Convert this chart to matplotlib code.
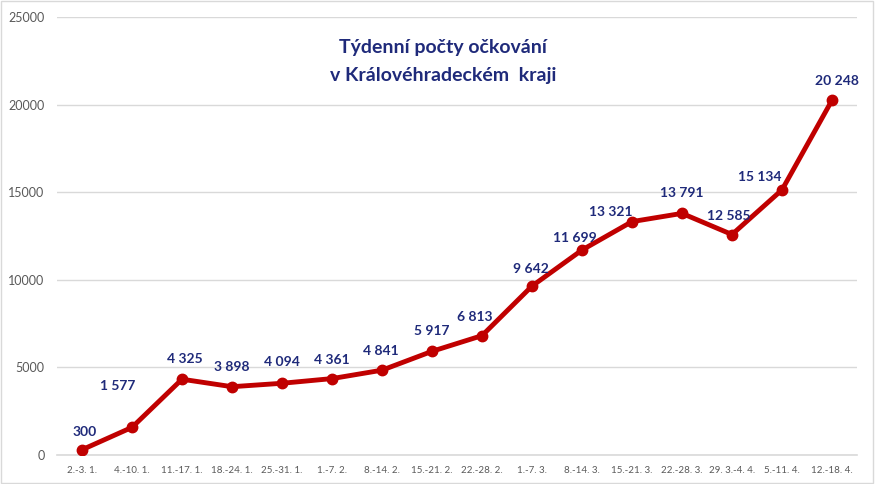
import matplotlib
matplotlib.use('Agg')
import matplotlib.pyplot as plt
from matplotlib.patches import Rectangle

weeks = ['2.-3. 1.', '4.-10. 1.', '11.-17. 1.', '18.-24. 1.', '25.-31. 1.', '1.-7. 2.',
         '8.-14. 2.', '15.-21. 2.', '22.-28. 2.', '1.-7. 3.', '8.-14. 3.', '15.-21. 3.',
         '22.-28. 3.', '29. 3.-4. 4.', '5.-11. 4.', '12.-18. 4.']
vaccinations = [300, 1577, 4325, 3898, 4094, 4361, 4841, 5917, 6813, 9642, 11699,
                13321, 13791, 12585, 15134, 20248]
# label offsets in pixels (dx, dy) relative to point
label_offsets = [(3, 18), (-14, 41), (3, 20), (0, 20), (0, 21), (0, 19), (-1, 19), (0, 20),
                 (-7, 19), (-1, 17), (-7, 12), (-21, 10), (0, 20), (-3, 19), (-22, 13), (5, 19)]

plt.rcParams['font.family'] = ['Lato', 'DejaVu Sans']

fig = plt.figure(figsize=(8.75, 4.84), dpi=100)
ax = fig.add_axes([57 / 875, 1 - 455 / 484, 800 / 875, 438 / 484])

x = list(range(len(weeks)))
ax.plot(x, vaccinations, color='#C00000', lw=3.5, marker='o', ms=7.5, zorder=3,
        solid_capstyle='round')

for xi, v, (dx, dy) in zip(x, vaccinations, label_offsets):
    ax.annotate(f'{v:,}'.replace(',', ' '), (xi, v), xytext=(dx, dy),
                textcoords='offset pixels', ha='center', va='center',
                fontsize=10, fontweight='bold', color='#1F2A7A', zorder=4)

ax.set_xlim(-0.5, len(weeks) - 0.5)
ax.set_ylim(0, 25000)
ax.set_yticks(range(0, 25001, 5000))
ax.set_xticks(x)
ax.set_xticklabels(weeks, fontsize=7, color='#595959')
ax.tick_params(axis='y', labelsize=9, labelcolor='#595959', length=0, pad=9)
ax.tick_params(axis='x', length=0, pad=8)
ax.grid(axis='y', color='#D9D9D9', lw=1)
ax.set_axisbelow(True)
for s in ['top', 'right', 'left']:
    ax.spines[s].set_visible(False)
ax.spines['bottom'].set_color('#D9D9D9')
ax.spines['bottom'].set_linewidth(1.2)

fig.text(0.506, 1 - 48 / 484, 'Týdenní počty očkování', ha='center', va='center',
         fontsize=14, fontweight='bold', color='#1F2A7A')
fig.text(0.506, 1 - 75 / 484, 'v Královéhradeckém  kraji', ha='center', va='center',
         fontsize=14, fontweight='bold', color='#1F2A7A')

fig.patches.append(Rectangle((0.001, 0.002), 0.997, 0.996, transform=fig.transFigure,
                             fill=False, edgecolor='#D9D9D9', lw=1))

fig.savefig('out.png', dpi=100)
